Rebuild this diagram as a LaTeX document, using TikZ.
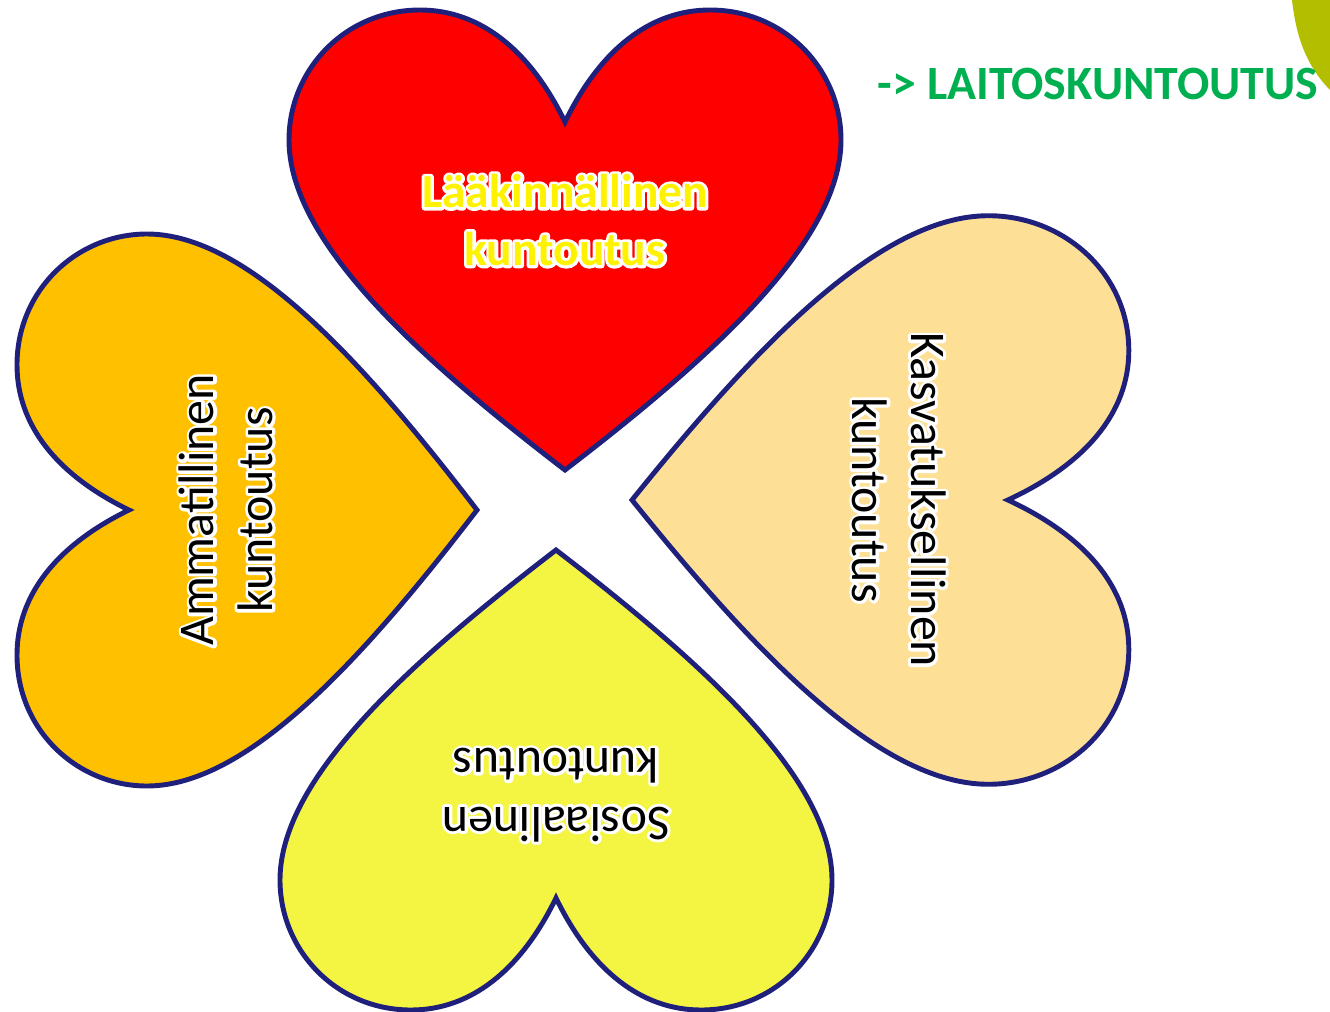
\documentclass[tikz,border=0pt]{standalone}
\usepackage{fontspec}
\setmainfont{Carlito}

\definecolor{rim}{HTML}{1F1F7C}
\definecolor{leafred}{HTML}{FF0000}
\definecolor{leaforange}{HTML}{FFC000}
\definecolor{leafsand}{HTML}{FDE096}
\definecolor{leafyellow}{HTML}{F4F442}
\definecolor{textgreen}{HTML}{00B050}
\definecolor{olivedrop}{HTML}{B4BE00}

% one heart, tip at the origin, lobes up
\newcommand{\heartshape}{(0,0) .. controls (150,115) and (276,230) .. (276,330)
  .. controls (276,400) and (220,460) .. (145,460)
  .. controls (85,460) and (35,420) .. (0,348)
  .. controls (-35,420) and (-85,460) .. (-145,460)
  .. controls (-220,460) and (-276,400) .. (-276,330)
  .. controls (-276,230) and (-150,115) .. (0,0) -- cycle}
% white rim round the letters (stroked copy under the filled one)
\newcommand{\glow}[1]{\leavevmode\rlap{\color{white}\special{pdf:literal direct 1 Tr 1 j 1.7 w}#1\special{pdf:literal direct 0 Tr}}#1}

\begin{document}
\begin{tikzpicture}[x=0.01cm,y=0.01cm,
  leaf/.style={draw=rim,line width=1.4pt,line join=miter},
  caption/.style={align=center,inner sep=0pt,font=\fontsize{14.2}{16.6}\selectfont}]
\useasboundingbox (0,0) rectangle (1330,1011);

\fill[olivedrop] (1292,1011) .. controls (1296,975) and (1306,945) .. (1331,920) -- (1331,1011) -- cycle;

% the four leaves
\path[leaf,fill=leafred,shift={(565,541)}] \heartshape;
\path[leaf,fill=leaforange,shift={(477,501)},rotate=90] \heartshape;
\path[leaf,fill=leafsand,shift={(632,511)},rotate=-90,xscale=1.03,yscale=1.08] \heartshape;
\path[leaf,fill=leafyellow,shift={(556,461)},rotate=180] \heartshape;

\node[caption,text=yellow,font=\bfseries\fontsize{13.5}{16.4}\selectfont] (medical) at (565,791)
  {\glow{Lääkinnällinen}\\\glow{kuntoutus}};
\node[caption,rotate=90] (vocational) at (226,501)
  {\glow{Ammatillinen}\\\glow{kuntoutus}};
\node[caption,rotate=-90] (educational) at (899,511)
  {\glow{Kasvatuksellinen}\\\glow{kuntoutus}};
\node[caption,rotate=180] (social) at (556,216)
  {\glow{Sosiaalinen}\\\glow{kuntoutus}};

\node[inner sep=0pt,text=textgreen,font=\bfseries\fontsize{13.6}{16}\selectfont] (institution) at (1098,927)
  {-> LAITOSKUNTOUTUS};
\end{tikzpicture}
\end{document}
